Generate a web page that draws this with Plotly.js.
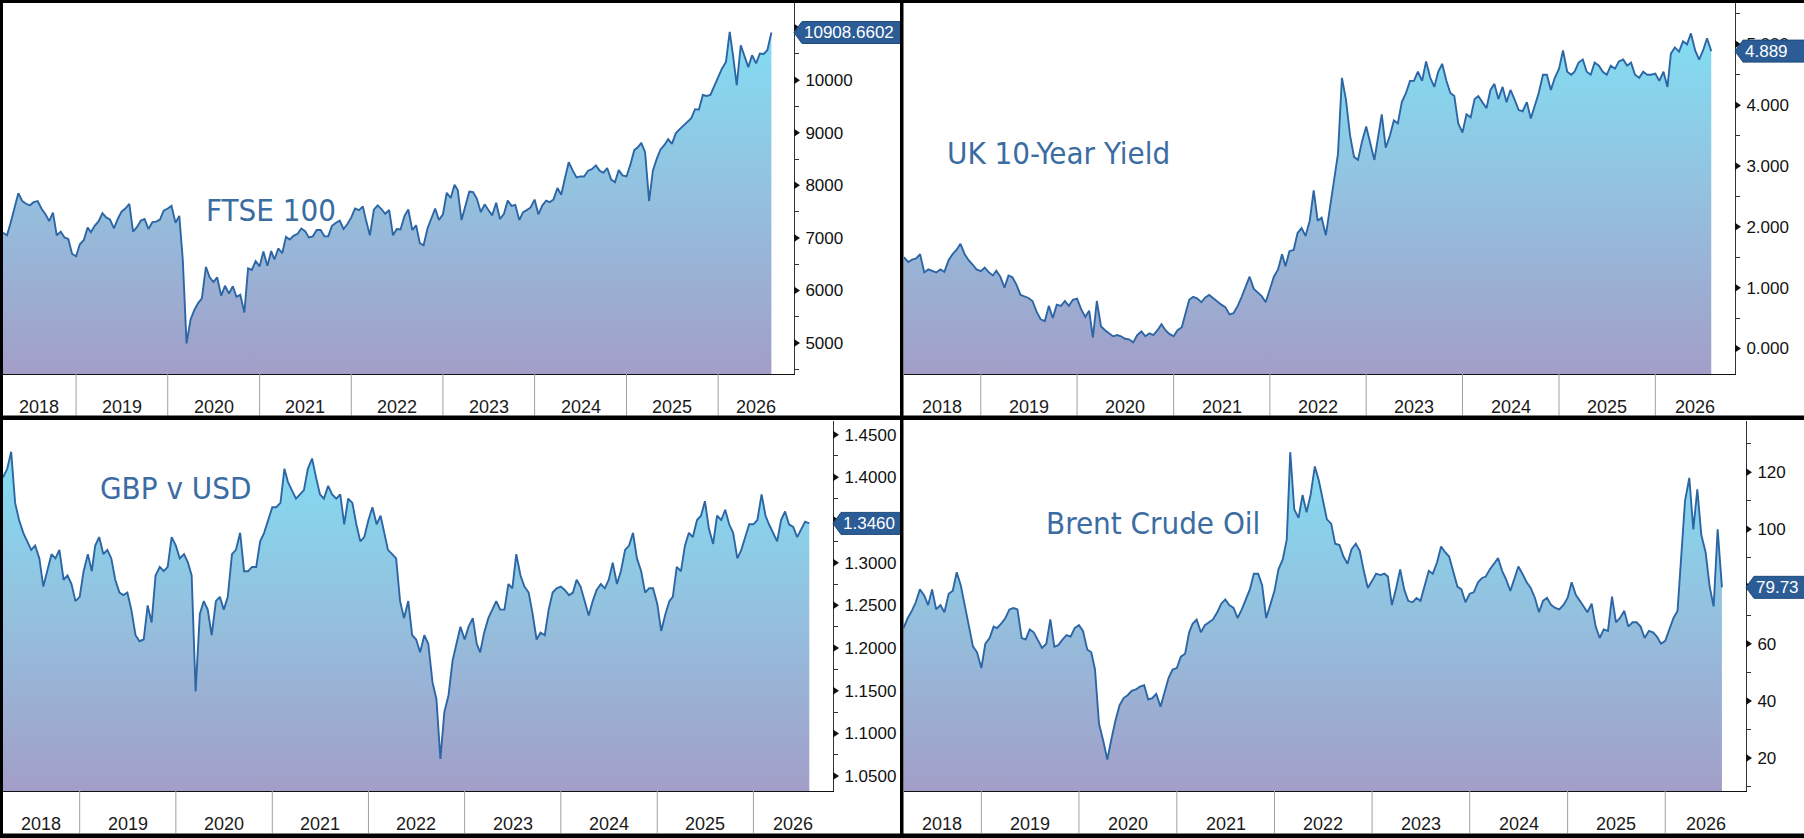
<!DOCTYPE html>
<html>
<head>
<meta charset="utf-8">
<script src="https://cdn.plot.ly/plotly-3.0.1.min.js"></script>
<style>html,body{margin:0;padding:0;background:#fff;overflow:hidden}</style>
</head>
<body>
<div id="chart" style="width:1804px;height:838px"></div>
<script>
// ---------------- DATA (semi-monthly readings, 1st & 16th of each month) ----------------
const firstDate = '2018-03-16';
const lastDate = '2026-08-01';

const ftse = [
  7100, 7050, 7300, 7550, 7850, 7700, 7650, 7620, 7680, 7700, 7560, 7450, 7320, 7480, 7050, 7120, 7010, 6980, 6700,
  6650, 6880, 6960, 7200, 7110, 7230, 7320, 7470, 7390, 7350, 7180, 7360, 7500, 7560, 7650, 7120, 7210, 7330, 7360, 7170, 7300, 7310, 7350, 7520,
  7560, 7610, 7290, 7420, 6580, 4994, 5450, 5630, 5760, 5850, 6450, 6250, 6160, 6250, 5900, 6090, 5940, 6080, 5880, 5920, 5580, 6420, 6390, 6560,
  6460, 6740, 6470, 6750, 6590, 6800, 6710, 7020, 6970, 7040, 7080, 7180, 7130, 7010, 7030, 7150, 7150, 7030, 7030, 7230, 7290, 7330, 7170, 7260,
  7390, 7560, 7530, 7600, 7330, 7050, 7540, 7620, 7550, 7460, 7530, 7050, 7170, 7160, 7420, 7540, 7150, 7240, 6900, 6860, 7190, 7360, 7560, 7340,
  7450, 7860, 7760, 8010, 7910, 7340, 7630, 7880, 7870, 7750, 7490, 7640, 7530, 7430, 7670, 7360, 7460, 7710, 7610, 7630, 7340, 7490, 7530, 7580,
  7730, 7450, 7620, 7710, 7680, 7730, 7950, 7820, 8140, 8440, 8280, 8150, 8170, 8170, 8280, 8310, 8380, 8280, 8240, 8330, 8110, 8060, 8290, 8190,
  8170, 8390, 8670, 8730, 8810, 8630, 7700, 8280, 8500, 8680, 8770, 8880, 8790, 8990, 9070, 9140, 9200, 9280, 9450, 9440, 9720, 9700, 9720, 9880,
  10050, 10220, 10350, 10919, 10480, 9905, 10665, 10440, 10250, 10476, 10320, 10507, 10500, 10570, 10908.6602
];

const ukYield = [
  1.50, 1.42, 1.46, 1.48, 1.55, 1.25, 1.30, 1.28, 1.25, 1.30, 1.26, 1.45, 1.55, 1.62, 1.72, 1.55, 1.45, 1.38, 1.30,
  1.27, 1.33, 1.25, 1.20, 1.28, 1.18, 1.00, 1.20, 1.17, 1.05, 0.88, 0.85, 0.83, 0.78, 0.60, 0.48, 0.45, 0.70, 0.50, 0.72, 0.70, 0.78, 0.70, 0.80,
  0.82, 0.65, 0.52, 0.62, 0.18, 0.78, 0.36, 0.30, 0.25, 0.20, 0.22, 0.20, 0.16, 0.15, 0.10, 0.22, 0.28, 0.20, 0.25, 0.22, 0.30, 0.40, 0.30, 0.24,
  0.20, 0.30, 0.35, 0.60, 0.80, 0.85, 0.82, 0.76, 0.84, 0.88, 0.82, 0.78, 0.72, 0.68, 0.56, 0.58, 0.70, 0.85, 1.02, 1.18, 0.98, 0.92, 0.86, 0.76,
  0.97, 1.18, 1.30, 1.55, 1.35, 1.60, 1.62, 1.90, 1.98, 1.85, 2.10, 2.60, 2.10, 2.15, 1.86, 2.30, 2.80, 3.20, 4.45, 4.10, 3.50, 3.15, 3.10, 3.40,
  3.65, 3.40, 3.10, 3.50, 3.85, 3.30, 3.50, 3.75, 3.70, 4.05, 4.20, 4.40, 4.40, 4.55, 4.40, 4.72, 4.45, 4.30, 4.55, 4.68, 4.40, 4.20, 4.15, 3.70,
  3.55, 3.85, 3.80, 4.10, 4.15, 4.05, 3.95, 4.25, 4.35, 4.10, 4.30, 4.05, 4.25, 4.10, 3.92, 3.90, 4.05, 3.78, 4.00, 4.20, 4.50, 4.50, 4.25, 4.45,
  4.60, 4.90, 4.55, 4.50, 4.55, 4.70, 4.75, 4.55, 4.50, 4.70, 4.65, 4.55, 4.50, 4.65, 4.60, 4.72, 4.75, 4.65, 4.70, 4.50, 4.45, 4.55, 4.50, 4.50,
  4.52, 4.40, 4.55, 4.30, 4.85, 4.95, 4.88, 5.05, 5.00, 5.18, 4.90, 4.75, 4.90, 5.10, 4.889
];

const gbpUsd = [
  1.400, 1.410, 1.430, 1.370, 1.350, 1.335, 1.325, 1.315, 1.320, 1.305, 1.272, 1.290, 1.310, 1.305, 1.315, 1.280, 1.285, 1.275, 1.255,
  1.260, 1.290, 1.310, 1.290, 1.320, 1.330, 1.310, 1.315, 1.305, 1.280, 1.265, 1.262, 1.265, 1.245, 1.215, 1.208, 1.210, 1.250, 1.230, 1.285, 1.295, 1.290, 1.295, 1.330,
  1.320, 1.305, 1.310, 1.300, 1.285, 1.149, 1.240, 1.255, 1.245, 1.215, 1.255, 1.260, 1.245, 1.260, 1.310, 1.315, 1.335, 1.290, 1.290, 1.295, 1.295, 1.325, 1.335, 1.350,
  1.365, 1.365, 1.370, 1.410, 1.395, 1.385, 1.375, 1.380, 1.385, 1.410, 1.422, 1.400, 1.380, 1.375, 1.390, 1.380, 1.375, 1.380, 1.345, 1.375, 1.370, 1.345, 1.325, 1.330,
  1.350, 1.365, 1.345, 1.355, 1.335, 1.315, 1.310, 1.305, 1.255, 1.235, 1.255, 1.215, 1.210, 1.195, 1.215, 1.205, 1.160, 1.140, 1.070, 1.125, 1.145, 1.185, 1.205, 1.225,
  1.210, 1.225, 1.235, 1.205, 1.195, 1.218, 1.235, 1.245, 1.255, 1.245, 1.245, 1.275, 1.270, 1.310, 1.285, 1.272, 1.265, 1.240, 1.210, 1.218, 1.215, 1.245, 1.265, 1.270,
  1.272, 1.268, 1.262, 1.265, 1.280, 1.272, 1.255, 1.238, 1.255, 1.268, 1.275, 1.270, 1.280, 1.300, 1.275, 1.290, 1.315, 1.320, 1.335, 1.305, 1.290, 1.265, 1.270, 1.270,
  1.252, 1.220, 1.240, 1.255, 1.260, 1.295, 1.290, 1.320, 1.335, 1.330, 1.350, 1.355, 1.372, 1.340, 1.322, 1.355, 1.350, 1.362, 1.345, 1.335, 1.305, 1.315, 1.330, 1.345,
  1.345, 1.350, 1.380, 1.355, 1.345, 1.335, 1.325, 1.350, 1.360, 1.345, 1.342, 1.330, 1.340, 1.348, 1.3460
];

const brent = [
  65.5, 69, 71.5, 74.5, 79, 77, 73.5, 79, 72, 73.5, 71, 77.5, 78.5, 85, 80.5, 73, 66.5, 59, 57,
  51.5, 60, 62, 66, 65.5, 67, 69, 72, 72.5, 72, 62, 61.5, 65, 64, 61, 58.5, 60, 68.5, 59, 59.5, 61.5, 63, 62.5, 65.5,
  66.5, 64.5, 58, 57, 51, 32, 26, 19.5, 26.5, 33, 38.5, 41, 42, 43.5, 44, 45, 45.5, 40.5, 41, 42.5, 38, 43.5, 48, 51,
  51.5, 55.5, 56.5, 64, 67, 68.5, 64, 66.5, 67.5, 68.5, 71, 74, 75.5, 73.5, 72.5, 69, 72, 75.5, 79, 84.5, 84.5, 80.5, 69, 73.5,
  78.5, 86, 89.5, 96.5, 127, 107, 104, 112, 106, 112, 122, 117, 110, 103.5, 102, 95, 94.5, 90.5, 88, 93, 95, 92.5, 85.5, 79.5,
  82, 84.5, 84, 84.5, 83.5, 73.5, 79.5, 86, 79, 75, 74.5, 76, 75, 80, 85.5, 84.5, 88.5, 94, 92, 90.5, 85.5, 80, 79, 74.5,
  77.5, 78, 81.5, 83, 83.5, 86, 88, 90, 85.5, 82.5, 78.5, 83, 87, 84.5, 81.5, 79.5, 76, 71, 75, 76, 73.5, 72.5, 72, 73.5,
  76, 81.5, 77, 75, 73, 71, 74, 66, 62, 65, 64.5, 76.5, 67.5, 69, 71.5, 66, 67.5, 67.5, 66, 62, 64.5, 64, 62.5, 60,
  61, 65, 69, 71.5, 88, 110, 118, 100, 114, 98, 92, 80, 73, 100, 79.73
];

// tick labels
const yearLabels = ['2018','2019','2020','2021','2022','2023','2024','2025','2026'];
const ftseTicks  = [5000, 6000, 7000, 8000, 9000, 10000, 11000];
const yieldTicks = [0, 1, 2, 3, 4, 5];
const gbpTicks   = [1.05, 1.10, 1.15, 1.20, 1.25, 1.30, 1.35, 1.40, 1.45];
const brentTicks = [20, 40, 60, 80, 100, 120];
const titles = ['FTSE 100', 'UK 10-Year Yield', 'GBP v USD', 'Brent Crude Oil'];

// ---------------- DATES (1st and 16th of every month) ----------------
const dates = [firstDate];
for (let y = 2018; y <= 2026; y++) {
  for (let m = 1; m <= 12; m++) {
    for (const d of [1, 16]) {
      const s = y + '-' + String(m).padStart(2, '0') + '-' + String(d).padStart(2, '0');
      if (s > firstDate && s <= lastDate) dates.push(s);
    }
  }
}

// ---------------- LAYOUT ----------------
const W = 1804, H = 838;
const rangeEnd = '2026-10-30';
const fx = p => p / W;
const fy = p => 1 - p / H;

const panels = [
  {vals: ftse, ticks: ftseTicks, dec: 0, tagDec: 4, range: [4411, 11470], minor: 500,
   px: {l: 3, r: 794, t: 3, b: 374, lb: 415.5, edge: 902}, title: titles[0], tx: 0.254, ty: 0.442},
  {vals: ukYield, ticks: yieldTicks, dec: 3, tagDec: 3, range: [-0.42, 5.68], minor: 0.5,
   px: {l: 904, r: 1735, t: 3, b: 374, lb: 415.5, edge: 1806}, title: titles[1], tx: 0.049, ty: 0.596},
  {vals: gbpUsd, ticks: gbpTicks, dec: 4, tagDec: 4, range: [1.0325, 1.466], minor: 0.025,
   px: {l: 3, r: 833, t: 421, b: 791, lb: 833, edge: 902}, title: titles[2], tx: 0.114, ty: 0.818},
  {vals: brent, ticks: brentTicks, dec: 0, tagDec: 2, range: [8.5, 137.9], minor: 10,
   px: {l: 903.5, r: 1746, t: 421, b: 791, lb: 833, edge: 1806}, title: titles[3], tx: 0.167, ty: 0.723}
];

const lineColor = '#2c66a5';
const titleColor = '#3b6ca2';
const tagColor = '#2b5c95';
const gradient = [[0, '#a29ec8'], [0.5, '#93c2df'], [1, '#7fe2f6']];

const traces = [];
const shapes = [];
const annotations = [];
const layout = {
  width: W, height: H,
  margin: {l: 0, r: 0, t: 0, b: 0, pad: 0},
  paper_bgcolor: '#ffffff', plot_bgcolor: '#ffffff',
  showlegend: false,
  font: {family: 'Liberation Sans, Arial, sans-serif', color: '#111'}
};

function midDate(a, b) {
  const ta = new Date(a + 'T00:00:00Z').getTime();
  const tb = new Date(b + 'T00:00:00Z').getTime();
  return new Date((ta + tb) / 2).toISOString().slice(0, 10);
}

panels.forEach((p, i) => {
  const n = i + 1;
  const xa = 'x' + (n === 1 ? '' : n), ya = 'y' + (n === 1 ? '' : n);
  const xKey = 'xaxis' + (n === 1 ? '' : n), yKey = 'yaxis' + (n === 1 ? '' : n);
  const xDom = [fx(p.px.l), fx(p.px.r)];
  const yDom = [fy(p.px.b), fy(p.px.t)];
  const plotH = p.px.b - p.px.t;
  const last = p.vals[p.vals.length - 1];
  const pxPerUnit = plotH / (p.range[1] - p.range[0]);

  // a tick label that sits fully behind the last-value tag is not visible in the chart
  const tickText = p.ticks.map(v => Math.abs(v - last) * pxPerUnit < 5.5 ? '' : v.toFixed(p.dec));

  layout[xKey] = {
    domain: xDom, anchor: ya, type: 'date', range: [firstDate, rangeEnd],
    showticklabels: false, ticks: '', showgrid: false, zeroline: false,
    showline: true, linecolor: '#111', linewidth: 1, automargin: false, fixedrange: true
  };
  layout[yKey] = {
    domain: yDom, anchor: xa, side: 'right', range: p.range,
    showgrid: false, zeroline: false, showline: true, linecolor: '#333', linewidth: 1,
    ticks: 'outside', ticklen: 7, tickcolor: 'rgba(0,0,0,0)',
    tickmode: 'array', tickvals: p.ticks, ticktext: tickText,
    tickfont: {family: 'Liberation Sans, Arial, sans-serif', size: 17, color: '#111'},
    minor: {tickmode: 'linear', tick0: p.ticks[0], dtick: p.minor, ticks: 'outside', ticklen: 4, tickwidth: 1, tickcolor: '#333'},
    automargin: false, fixedrange: true
  };

  // baseline so the fill reaches the bottom of the plot area
  traces.push({
    x: dates, y: dates.map(() => p.range[0]), xaxis: xa, yaxis: ya,
    type: 'scatter', mode: 'lines', line: {width: 0, color: 'rgba(0,0,0,0)'}, hoverinfo: 'skip'
  });
  traces.push({
    x: dates, y: p.vals, xaxis: xa, yaxis: ya,
    type: 'scatter', mode: 'lines', line: {color: lineColor, width: 1.9},
    fill: 'tonexty',
    fillgradient: {type: 'vertical', start: p.range[0], stop: p.range[1], colorscale: gradient},
    hoverinfo: 'skip'
  });

  // year separators and year labels in the label row
  const rowBottom = -(p.px.lb - p.px.b) / plotH;
  const yLab = -(p.px.lb - p.px.b - 9) / plotH;
  yearLabels.forEach((yl, k) => {
    const jan1 = yl + '-01-01';
    const next = (parseInt(yl, 10) + 1) + '-01-01';
    if (k > 0) {
      shapes.push({type: 'line', xref: xa, yref: ya + ' domain', x0: jan1, x1: jan1, y0: 0, y1: rowBottom,
        line: {color: '#a0a0a0', width: 1}, layer: 'above'});
    }
    const segStart = jan1 < firstDate ? firstDate : jan1;
    const segEnd = next > rangeEnd ? rangeEnd : next;
    annotations.push({xref: xa, yref: ya + ' domain', x: midDate(segStart, segEnd), y: yLab,
      text: yl, showarrow: false, xanchor: 'center', yanchor: 'middle',
      font: {family: 'Liberation Sans, Arial, sans-serif', size: 18, color: '#1a1a1a'}});
  });

  // arrow-shaped major ticks
  p.ticks.forEach(v => {
    shapes.push({type: 'path', xref: 'paper', yref: ya, xsizemode: 'pixel', ysizemode: 'pixel',
      xanchor: xDom[1], yanchor: v, path: 'M0,4 L6,0 L0,-4 Z',
      fillcolor: '#111', line: {width: 0}, layer: 'above'});
  });

  // last value tag
  const tagW = p.px.edge - p.px.r;
  shapes.push({type: 'path', xref: 'paper', yref: ya, xsizemode: 'pixel', ysizemode: 'pixel',
    xanchor: xDom[1], yanchor: last,
    path: 'M0,0 L8,11 L' + tagW + ',11 L' + tagW + ',-11 L8,-11 Z',
    fillcolor: tagColor, line: {color: '#1f4b7e', width: 1}, layer: 'above'});
  annotations.push({xref: 'paper', yref: ya, x: xDom[1], y: last, xanchor: 'left', yanchor: 'middle',
    xshift: 8, text: last.toFixed(p.tagDec), showarrow: false,
    font: {family: 'Liberation Sans, Arial, sans-serif', size: 17, color: '#ffffff'}});

  // chart title inside the plot
  annotations.push({xref: xa + ' domain', yref: ya + ' domain', x: p.tx, y: p.ty,
    xanchor: 'left', yanchor: 'middle', text: p.title, showarrow: false,
    font: {family: 'DejaVu Sans Condensed, DejaVu Sans, sans-serif', size: 31, color: titleColor}});
});

// black frame and separators
const black = {fillcolor: '#000', line: {width: 0}, layer: 'above', xref: 'paper', yref: 'paper', type: 'rect'};
shapes.push(Object.assign({x0: 0, x1: 1, y0: fy(3), y1: 1}, black));
shapes.push(Object.assign({x0: 0, x1: fx(3), y0: 0, y1: 1}, black));
shapes.push(Object.assign({x0: fx(900), x1: fx(903.5), y0: 0, y1: 1}, black));
shapes.push(Object.assign({x0: 0, x1: 1, y0: fy(420), y1: fy(415.5)}, black));
shapes.push(Object.assign({x0: 0, x1: 1, y0: 0, y1: fy(833.5)}, black));

layout.shapes = shapes;
layout.annotations = annotations;

Plotly.newPlot('chart', traces, layout, {staticPlot: true, displayModeBar: false});
</script>
</body>
</html>
